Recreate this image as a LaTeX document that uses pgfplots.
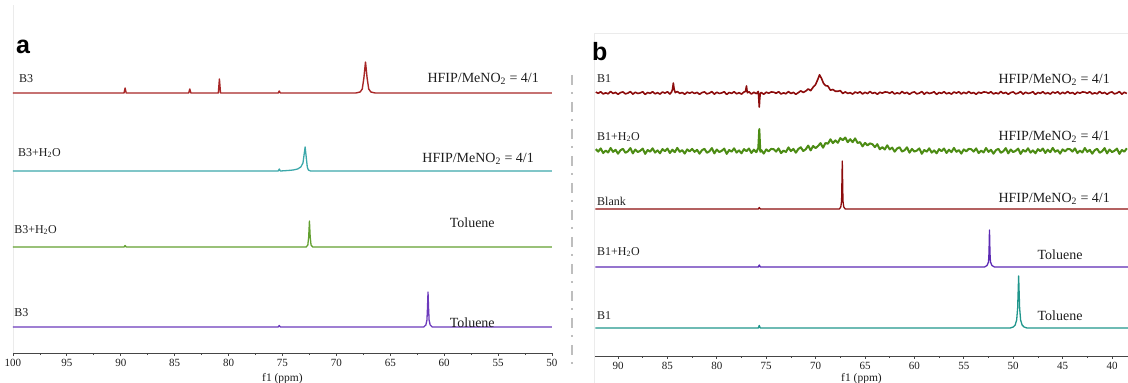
\documentclass[border=0pt]{standalone}
\usepackage{fontspec}
\setmainfont{Liberation Serif}
\newfontfamily\sansfam{Liberation Sans}
\usepackage{pgfplots}
\pgfplotsset{compat=1.18}
\definecolor{redA}{RGB}{168,38,38}
\definecolor{tealA}{RGB}{60,168,170}
\definecolor{greenA}{RGB}{98,160,48}
\definecolor{purpleA}{RGB}{108,58,188}
\definecolor{redB}{RGB}{140,12,12}
\definecolor{greenB}{RGB}{76,140,20}
\definecolor{purpleB}{RGB}{92,42,180}
\definecolor{tealB}{RGB}{32,150,140}
\definecolor{txt}{RGB}{30,30,30}
\definecolor{axisgray}{RGB}{70,70,70}
\definecolor{sepgray}{RGB}{190,190,190}
\pgfplotsset{nmr/.style={scale only axis, axis x line=bottom, axis y line=none,
  x dir=reverse, clip=false,
  axis line style={draw=axisgray, line width=0.9pt, -},
  tick style={axisgray, line width=0.8pt},
  major tick length=3pt, minor tick length=2pt, tick align=outside,
  minor x tick num=1,
  /pgf/number format/assume math mode=true,
  xticklabel style={font=\fontsize{11}{11}\selectfont, text=txt},
  xlabel={f1 (ppm)},
  xlabel style={font=\fontsize{11.5}{12}\selectfont, text=txt},
  every axis plot/.append style={line join=round, mark=none}}}
\newcommand{\lab}{\fontsize{12}{12}\selectfont}
\newcommand{\lbl}{\fontsize{14}{14}\selectfont}
\newcommand{\hfip}{HFIP/MeNO\textsubscript{2} = 4/1}
\begin{document}
\begin{tikzpicture}
\useasboundingbox (0,0) rectangle (1128pt,383pt);
% faint frames and separator
\draw[black!8, line width=0.8pt] (13pt,30pt) -- (13pt,378pt);
\draw[black!8, line width=0.8pt] (594pt,0pt) -- (594pt,350pt) -- (1128pt,350pt);
\draw[sepgray, line width=2.5pt, dash pattern=on 10pt off 7pt on 2pt off 8pt] (572pt,308pt) -- (572pt,18pt);

% ---------------- panel a ----------------
\begin{axis}[nmr, at={(13pt,30pt)}, anchor=south west, width=539pt, height=343pt,
  xmin=50, xmax=100, ymin=30, ymax=373, xtick={50,55,...,100}]
\addplot[redA, line width=1.4pt] coordinates {
(100,290) (89.7,290) (89.6,295) (89.5,290) (83.7,290) (83.6,294) (83.5,290)
(80.95,290) (80.85,304) (80.75,290) (75.4,290) (75.3,292) (75.2,290)
(68.2,290) (67.8,291) (67.6,294) (67.45,305) (67.3,321) (67.15,305) (67.0,294) (66.8,291) (66.4,290) (50,290)};
\addplot[tealA, line width=1.3pt] coordinates {
(100,212) (75.4,212) (75.3,214) (75.2,212) (74.5,212.5) (74,213) (73.6,214) (73.3,216)
(73.1,220) (73.0,228) (72.9,236) (72.8,226) (72.7,216) (72.6,213) (72.4,212) (50,212)};
\addplot[greenA, line width=1.3pt] coordinates {
(100,136) (89.7,136) (89.6,137.5) (89.5,136) (72.8,136) (72.65,138) (72.57,146)
(72.5,162) (72.43,146) (72.35,138) (72.2,136) (50,136)};
\addplot[purpleA, line width=1.3pt] coordinates {
(100,56) (75.4,56) (75.3,57.5) (75.2,56) (61.9,56) (61.7,58) (61.6,63) (61.55,75)
(61.5,91) (61.45,75) (61.4,63) (61.3,58) (61.1,56) (50,56)};
\node[anchor=west, inner sep=0, font=\sansfam\bfseries\fontsize{25}{25}\selectfont] at (axis cs:99.72,336) {a};
\node[anchor=west, inner sep=0, font=\lab, text=txt] at (axis cs:99.44,304) {B3};
\node[anchor=east, inner sep=0, font=\lbl, text=txt] at (axis cs:51.2,304) {\hfip};
\node[anchor=west, inner sep=0, font=\lab, text=txt] at (axis cs:99.54,230) {B3+H\textsubscript{2}O};
\node[anchor=east, inner sep=0, font=\lbl, text=txt] at (axis cs:51.67,224) {\hfip};
\node[anchor=west, inner sep=0, font=\lab, text=txt] at (axis cs:99.9,153) {B3+H\textsubscript{2}O};
\node[anchor=center, inner sep=0, font=\lbl, text=txt] at (axis cs:57.4,160) {Toluene};
\node[anchor=west, inner sep=0, font=\lab, text=txt] at (axis cs:99.9,70) {B3};
\node[anchor=center, inner sep=0, font=\lbl, text=txt] at (axis cs:57.4,60) {Toluene};
\end{axis}

% ---------------- panel b ----------------
\begin{axis}[nmr, at={(595pt,27pt)}, anchor=south west, width=533pt, height=323pt,
  xmin=38.38, xmax=92.33, ymin=27, ymax=350, xtick={40,45,...,90},
  xlabel style={yshift=3pt}]
\addplot[redB, line width=1.6pt] coordinates {
(92.25,290.9) (92.0,289.7) (91.75,291.3) (91.5,289.0) (91.25,290.2) (91.0,289.2) (90.75,291.5) (90.5,289.5)
(90.25,290.6) (90.0,288.7) (89.75,290.4) (89.5,291.1) (89.25,289.1) (89.0,289.9) (88.75,291.4) (88.5,288.8)
(88.25,290.8) (88.0,289.5) (87.75,290.1) (87.5,291.2) (87.25,288.6) (87.0,290.5) (86.75,289.6) (86.5,291.3)
(86.25,289.2) (86.0,290.3) (85.75,288.9) (85.5,291.0) (85.25,289.9) (85.0,291.2) (84.75,289.0) (84.6,290.7)
(84.5,293) (84.45,296) (84.4,300) (84.35,296) (84.3,293) (84.2,290.4) (84.0,291.5) (83.75,289.6)
(83.5,290.5) (83.25,288.7) (83.0,290.8) (82.75,289.8) (82.5,291.0) (82.25,289.5) (82.0,290.6) (81.75,288.7)
(81.5,290.4) (81.25,291.1) (81.0,289.1) (80.75,289.9) (80.5,291.4) (80.25,288.8) (80.0,290.8) (79.75,289.5)
(79.5,290.1) (79.25,291.2) (79.0,288.6) (78.75,290.5) (78.5,289.6) (78.25,291.3) (78.0,289.2) (77.75,290.3)
(77.5,288.9) (77.25,291.0) (77.1,291.5) (77.05,294) (77.0,297) (76.95,293) (76.9,290.2) (76.75,291.2)
(76.5,289.0) (76.25,290.7) (76.0,289.4) (75.8,291.5) (75.75,284) (75.7,276) (75.65,285) (75.6,289.6)
(75.5,290.5) (75.25,288.7) (75.0,290.8) (74.75,289.8) (74.5,291.0) (74.25,290.9) (74.0,289.7) (73.75,291.3)
(73.5,289.0) (73.25,290.2) (73.0,289.2) (72.75,291.5) (72.5,289.5) (72.25,290.6) (72.0,288.7) (71.75,290.4)
(71.5,292.1) (71.25,290.6) (71.0,291.9) (70.75,294.1) (70.5,292.3) (70.25,295.8) (70.0,298.5) (69.8,303.1)
(69.6,308.2) (69.4,304.5) (69.2,299.7) (69.0,297.4) (68.75,296.9) (68.5,292.8) (68.25,293.5) (68.0,291.7)
(67.75,291.7) (67.5,292.4) (67.25,289.5) (67.0,291.1) (66.75,289.6) (66.5,290.3) (66.25,288.9) (66.0,291.0)
(65.75,289.9) (65.5,291.2) (65.25,289.0) (65.0,290.7) (64.75,289.4) (64.5,291.5) (64.25,289.6) (64.0,290.5)
(63.75,288.7) (63.5,290.8) (63.25,289.8) (63.0,291.0) (62.75,290.9) (62.5,289.7) (62.25,291.3) (62.0,289.0)
(61.75,290.2) (61.5,289.2) (61.25,291.5) (61.0,289.5) (60.75,290.6) (60.5,288.7) (60.25,290.4) (60.0,291.1)
(59.75,289.1) (59.5,289.9) (59.25,291.4) (59.0,288.8) (58.75,290.8) (58.5,289.5) (58.25,290.1) (58.0,291.2)
(57.75,288.6) (57.5,290.5) (57.25,289.6) (57.0,291.3) (56.75,289.2) (56.5,290.3) (56.25,288.9) (56.0,291.0)
(55.75,289.9) (55.5,291.2) (55.25,289.0) (55.0,290.7) (54.75,289.4) (54.5,291.5) (54.25,289.6) (54.0,290.5)
(53.75,288.7) (53.5,290.8) (53.25,289.8) (53.0,291.0) (52.75,290.9) (52.5,289.7) (52.25,291.3) (52.0,289.0)
(51.75,290.2) (51.5,289.2) (51.25,291.5) (51.0,289.5) (50.75,290.6) (50.5,288.7) (50.25,290.4) (50.0,291.1)
(49.75,289.1) (49.5,289.9) (49.25,291.4) (49.0,288.8) (48.75,290.8) (48.5,289.5) (48.25,290.1) (48.0,291.2)
(47.75,288.6) (47.5,290.5) (47.25,289.6) (47.0,291.3) (46.75,289.2) (46.5,290.3) (46.25,288.9) (46.0,291.0)
(45.75,289.9) (45.5,291.2) (45.25,289.0) (45.0,290.7) (44.75,289.4) (44.5,291.5) (44.25,289.6) (44.0,290.5)
(43.75,288.7) (43.5,290.8) (43.25,289.8) (43.0,291.0) (42.75,290.9) (42.5,289.7) (42.25,291.3) (42.0,289.0)
(41.75,290.2) (41.5,289.2) (41.25,291.5) (41.0,289.5) (40.75,290.6) (40.5,288.7) (40.25,290.4) (40.0,291.1)
(39.75,289.1) (39.5,289.9) (39.25,291.4) (39.0,288.8) (38.75,290.8) (38.5,289.5)};
\addplot[greenB, line width=2.0pt] coordinates {
(92.25,233.8) (92.0,231.4) (91.75,234.6) (91.5,229.9) (91.25,232.4) (91.0,230.5) (90.75,235.0) (90.5,231.1)
(90.25,233.2) (90.0,229.3) (89.75,232.8) (89.5,234.2) (89.25,230.2) (89.0,231.7) (88.75,234.9) (88.5,229.6)
(88.25,233.5) (88.0,230.9) (87.75,232.2) (87.5,234.4) (87.25,229.1) (87.0,233.0) (86.75,231.3) (86.5,234.7)
(86.25,230.4) (86.0,232.6) (85.75,229.7) (85.5,233.9) (85.25,231.8) (85.0,234.5) (84.75,230.0) (84.5,233.3)
(84.25,230.8) (84.0,235.1) (83.75,231.2) (83.5,232.9) (83.25,229.4) (83.0,233.6) (82.75,231.6) (82.5,234.1)
(82.25,231.1) (82.0,233.2) (81.75,229.3) (81.5,232.8) (81.25,234.2) (81.0,230.2) (80.75,231.7) (80.5,234.9)
(80.25,229.6) (80.0,233.5) (79.75,230.9) (79.5,232.2) (79.25,234.4) (79.0,229.1) (78.75,233.0) (78.5,231.3)
(78.25,234.7) (78.0,230.4) (77.75,232.6) (77.5,229.7) (77.25,233.9) (77.0,231.8) (76.75,234.5) (76.5,230.0)
(76.25,233.3) (76.0,230.8) (75.8,235.1) (75.75,245) (75.7,254) (75.65,243) (75.6,231.2) (75.5,232.9)
(75.25,229.4) (75.0,233.6) (74.75,231.6) (74.5,234.1) (74.25,233.8) (74.0,231.4) (73.75,234.6) (73.5,229.9)
(73.25,232.4) (73.0,231.0) (72.75,235.6) (72.5,231.9) (72.25,234.1) (72.0,230.3) (71.75,234.0) (71.5,235.7)
(71.25,232.0) (71.0,233.7) (70.75,237.4) (70.5,232.6) (70.25,237.0) (70.0,234.9) (69.75,237.0) (69.5,239.9)
(69.25,235.3) (69.0,240.0) (68.75,239.3) (68.5,243.7) (68.25,239.9) (68.0,242.6) (67.75,240.2) (67.5,244.9)
(67.25,242.8) (67.0,245.5) (66.75,240.8) (66.5,243.8) (66.25,240.8) (66.0,244.6) (65.75,240.0) (65.5,240.9)
(65.25,236.6) (65.0,240.1) (64.75,237.6) (64.5,239.6) (64.25,238.8) (64.0,235.9) (63.75,238.8) (63.5,233.7)
(63.25,235.8) (63.0,233.5) (62.75,237.7) (62.5,233.6) (62.25,235.4) (62.0,231.3) (61.75,234.5) (61.5,235.7)
(61.25,231.4) (61.0,232.7) (60.75,235.7) (60.5,230.3) (60.25,234.1) (60.0,231.4) (59.75,232.5) (59.5,234.6)
(59.25,229.2) (59.0,233.0) (58.75,231.3) (58.5,234.7) (58.25,230.4) (58.0,232.6) (57.75,229.7) (57.5,233.9)
(57.25,231.8) (57.0,234.5) (56.75,230.0) (56.5,233.3) (56.25,230.8) (56.0,235.1) (55.75,231.2) (55.5,232.9)
(55.25,229.4) (55.0,233.6) (54.75,231.6) (54.5,234.1) (54.25,233.8) (54.0,231.4) (53.75,234.6) (53.5,229.9)
(53.25,232.4) (53.0,230.5) (52.75,235.0) (52.5,231.1) (52.25,233.2) (52.0,229.3) (51.75,232.8) (51.5,234.2)
(51.25,230.2) (51.0,231.7) (50.75,234.9) (50.5,229.6) (50.25,233.5) (50.0,230.9) (49.75,232.2) (49.5,234.4)
(49.25,229.1) (49.0,233.0) (48.75,231.3) (48.5,234.7) (48.25,230.4) (48.0,232.6) (47.75,229.7) (47.5,233.9)
(47.25,231.8) (47.0,234.5) (46.75,230.0) (46.5,233.3) (46.25,230.8) (46.0,235.1) (45.75,231.2) (45.5,232.9)
(45.25,229.4) (45.0,233.6) (44.75,231.6) (44.5,234.1) (44.25,233.8) (44.0,231.4) (43.75,234.6) (43.5,229.9)
(43.25,232.4) (43.0,230.5) (42.75,235.0) (42.5,231.1) (42.25,233.2) (42.0,229.3) (41.75,232.8) (41.5,234.2)
(41.25,230.2) (41.0,231.7) (40.75,234.9) (40.5,229.6) (40.25,233.5) (40.0,230.9) (39.75,232.2) (39.5,234.4)
(39.25,229.1) (39.0,233.0) (38.75,231.3) (38.5,234.7)};
\addplot[redB, line width=1.3pt] coordinates {
(92.3,174) (75.8,174) (75.7,175.5) (75.6,174) (67.6,174) (67.45,176) (67.37,182)
(67.3,222) (67.23,182) (67.15,176) (67.0,174) (38.4,174)};
\addplot[purpleB, line width=1.3pt] coordinates {
(92.3,116) (75.8,116) (75.7,118) (75.6,116) (52.9,116) (52.65,117.5) (52.5,121) (52.45,130)
(52.4,153) (52.35,130) (52.3,121) (52.15,117.5) (51.9,116) (38.4,116)};
\addplot[tealB, line width=1.3pt] coordinates {
(92.3,55) (75.8,55) (75.7,57.5) (75.6,55) (50.3,55) (50.0,56) (49.8,58) (49.65,63)
(49.55,75) (49.45,107) (49.35,75) (49.25,63) (49.1,58) (48.9,56) (48.6,55) (38.4,55)};
\node[anchor=west, inner sep=0, font=\sansfam\bfseries\fontsize{25}{25}\selectfont] at (axis cs:92.63,331) {b};
\node[anchor=west, inner sep=0, font=\lab, text=txt] at (axis cs:92.13,304) {B1};
\node[anchor=east, inner sep=0, font=\lbl, text=txt] at (axis cs:40.2,303) {\hfip};
\node[anchor=west, inner sep=0, font=\lab, text=txt] at (axis cs:92.13,246) {B1+H\textsubscript{2}O};
\node[anchor=east, inner sep=0, font=\lbl, text=txt] at (axis cs:40.2,246) {\hfip};
\node[anchor=west, inner sep=0, font=\lab, text=txt] at (axis cs:92.13,182) {Blank};
\node[anchor=east, inner sep=0, font=\lbl, text=txt] at (axis cs:40.2,184) {\hfip};
\node[anchor=west, inner sep=0, font=\lab, text=txt] at (axis cs:92.13,131) {B1+H\textsubscript{2}O};
\node[anchor=center, inner sep=0, font=\lbl, text=txt] at (axis cs:45.26,128) {Toluene};
\node[anchor=west, inner sep=0, font=\lab, text=txt] at (axis cs:92.13,67) {B1};
\node[anchor=center, inner sep=0, font=\lbl, text=txt] at (axis cs:45.26,67) {Toluene};
\end{axis}
\end{tikzpicture}
\end{document}
